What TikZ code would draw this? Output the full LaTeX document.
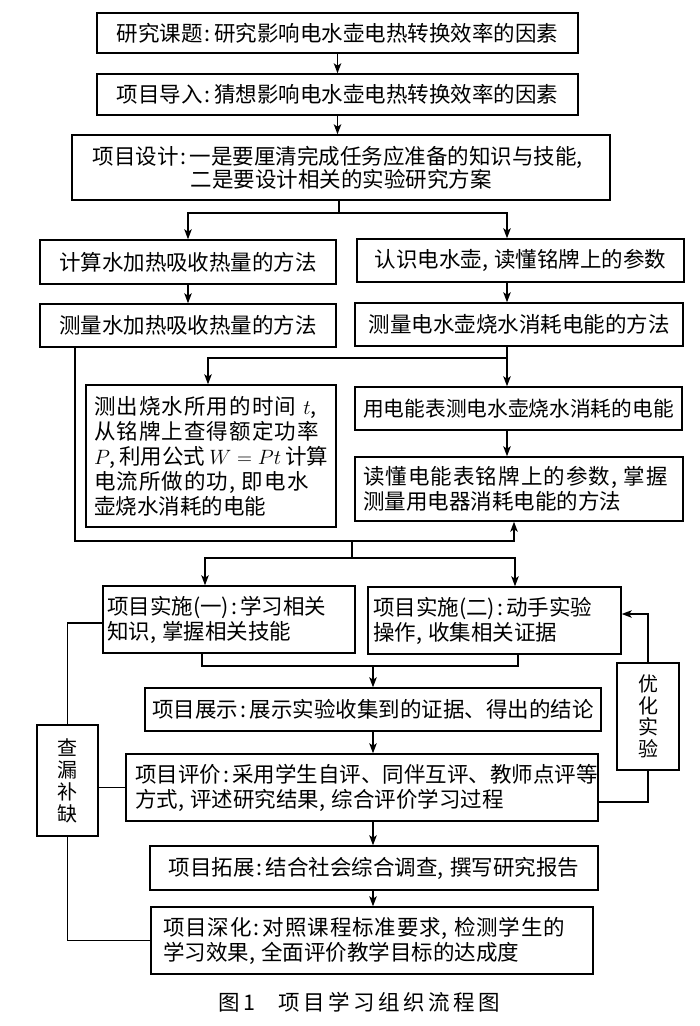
\documentclass[tikz,border=0pt]{standalone}
\usepackage{fontspec}
\setmainfont{Noto Sans CJK SC}
\usetikzlibrary{arrows.meta}
\newcommand{\zcolon}{\kern0.1em:\kern0.15em}
\newcommand{\zcomma}{,\kern0.3em}
\newcommand{\lsp}[2]{{\addfontfeature{LetterSpace=#1}#2}}
\begin{document}
\begin{tikzpicture}[x=1pt,y=-1pt,
  box/.style={draw, line width=1.5pt, inner sep=0pt, font=\fontsize{21.5}{25}\selectfont},
  arr/.style={-{Stealth[length=10pt,width=7.5pt,inset=2.5pt]}, line width=1.3pt},
  ln/.style={line width=1.3pt}]
\useasboundingbox (0,0) rectangle (700,1026);

% column coordinates
\coordinate (cTop) at (337.5,0);
\coordinate (cL) at (188,0);
\coordinate (cR) at (507,0);
\coordinate (cL3) at (208,0);
\coordinate (c75) at (75,0);
\coordinate (cI1) at (205,0);
\coordinate (cI2) at (515,0);
\coordinate (cI1b) at (202,0);
\coordinate (cI2b) at (518,0);
\coordinate (cM) at (373,0);

% boxes
\node[box, minimum width=481pt, minimum height=40pt] (b1) at (337.5,33)
  {研究课题\zcolon 研究影响电水壶电热转换效率的因素};
\node[box, minimum width=481pt, minimum height=41pt] (b2) at (337.5,94.5)
  {项目导入\zcolon 猜想影响电水壶电热转换效率的因素};
\node[box, minimum width=538pt, minimum height=65pt, align=center,
  font=\fontsize{21.5}{22}\selectfont] (b3) at (341,167.5)
  {项目设计\zcolon 一是要厘清完成任务应准备的知识与技能\zcomma\\二是要设计相关的实验研究方案};
\node[box, minimum width=296pt, minimum height=44pt] (L1) at (188,262)
  {计算水加热吸收热量的方法};
\node[box, minimum width=327pt, minimum height=43pt] (R1) at (520.5,260.5)
  {认识电水壶\zcomma 读懂铭牌上的参数};
\node[box, minimum width=296pt, minimum height=43pt] (L2) at (188,325.5)
  {测量水加热吸收热量的方法};
\node[box, minimum width=328pt, minimum height=43pt] (R2) at (519,324.5)
  {测量电水壶烧水消耗电能的方法};
\node[box, minimum width=250pt, minimum height=142pt, text width=234pt,
  inner xsep=8pt, align=left] (L3) at (211,456)
  {\lsp{5}{测出烧水所用的时间} $t$\zcomma\\
   \lsp{5}{从铭牌上查得额定功率}\\
   \mbox{$P$,\kern0.15em 利用公式\kern0.2em$W\;{=}\;Pt$\kern0.2em 计算}\\
   \lsp{5}{电流所做的功\zcomma 即电水}\\
   壶烧水消耗的电能};
\node[box, minimum width=327pt, minimum height=43pt,
  font=\fontsize{20.7}{25}\selectfont] (R3) at (518.5,408.5)
  {用电能表测电水壶烧水消耗的电能};
\node[box, minimum width=328pt, minimum height=64pt, text width=312pt,
  inner xsep=8pt, align=left] (R4) at (519,489)
  {\lsp{5}{读懂电能表铭牌上的参数\zcomma 掌握}\\测量用电器消耗电能的方法};
\node[box, minimum width=252pt, minimum height=67pt, text width=244pt,
  inner xsep=4pt, align=left] (I1) at (229,619.5)
  {项目实施(一)\zcolon 学习相关\\知识\zcomma 掌握相关技能};
\node[box, minimum width=253pt, minimum height=67pt, text width=243pt,
  inner xsep=5pt, align=left] (I2) at (494.5,620.5)
  {项目实施(二)\zcolon 动手实验\\操作\zcomma 收集相关证据};
\node[box, minimum width=456pt, minimum height=43pt] (S) at (373,709.5)
  {项目展示\zcolon 展示实验收集到的证据、得出的结论};
\node[box, minimum width=472pt, minimum height=67pt, text width=454pt,
  inner xsep=9pt, align=left] (E) at (362,787.5)
  {项目评价\zcolon 采用学生自评、同伴互评、教师点评等\\方式\zcomma 评述研究结果\zcomma 综合评价学习过程};
\node[box, minimum width=62pt, minimum height=107pt, align=center,
  font=\fontsize{20}{21.5}\selectfont] (Y) at (648,716.5)
  {优\\化\\实\\验};
\node[box, minimum width=61pt, minimum height=111pt, align=center,
  font=\fontsize{20}{22}\selectfont] (C) at (67.5,780.5)
  {查\\漏\\补\\缺};
\node[box, minimum width=448pt, minimum height=44pt] (T) at (374,868)
  {项目拓展\zcolon 结合社会综合调查\zcomma 撰写研究报告};
\node[box, minimum width=442pt, minimum height=67pt, text width=418pt,
  inner xsep=12pt, align=left] (D) at (372,940.5)
  {\lsp{4}{项目深化\zcolon 对照课程标准要求\zcomma 检测学生的}\\学习效果\zcomma 全面评价教学目标的达成度};
\node[font=\fontsize{21.5}{21.5}\selectfont\addfontfeature{LetterSpace=16}] (cap) at (359,1002)
  {图1\hspace{1.1em}项目学习组织流程图};

% junction coordinates
\coordinate (j1) at (339,213);
\coordinate (j2) at (507,358);
\coordinate (j3) at (514,541);
\coordinate (j3b) at (352,541);
\coordinate (j4) at (352,558);
\coordinate (j5) at (373,666);
\coordinate (k1) at (648,802);
\coordinate (k2) at (0,614);
\coordinate (k3) at (0,623);

% connectors
\draw[arr] (b1.south -| cTop) -- (b2.north -| cTop);
\draw[arr] (b2.south -| cTop) -- (b3.north -| cTop);
\draw[ln] (b3.south -| j1) -- (j1);
\draw[arr] (j1) -| (L1.north -| cL);
\draw[arr] (j1) -| (R1.north -| cR);
\draw[arr] (L1.south -| cL) -- (L2.north -| cL);
\draw[arr] (R1.south -| cR) -- (R2.north -| cR);
\draw[ln] (R2.south -| cR) -- (j2);
\draw[arr] (j2) -| (L3.north -| cL3);
\draw[arr] (j2) -- (R3.north -| cR);
\draw[arr] (R3.south -| cR) -- (R4.north -| cR);
\draw[arr] (L2.south -| c75) |- (j3) -- (R4.south -| j3);
\draw[ln] (j3b) -- (j4);
\draw[arr] (j4) -| (I1.north -| cI1);
\draw[arr] (j4) -| (I2.north -| cI2);
\draw[ln] (I1.south -| cI1b) |- (j5);
\draw[ln] (I2.south -| cI2b) |- (j5);
\draw[arr] (j5) -- (S.north -| cM);
\draw[arr] (S.south -| cM) -- (E.north -| cM);
\draw[arr] (E.south -| cM) -- (T.north -| cM);
\draw[arr] (T.south -| cM) -- (D.north -| cM);
\draw[ln] (k1 -| E.east) -- (k1) -- (Y.south);
\draw[arr] (Y.north) |- (I2.east |- k2);
\draw[ln] (C.north) |- (I1.west |- k3);
\draw[ln] (E.west) -- (C.east |- E.west);
\draw[ln] (C.south) |- (D.west);
\end{tikzpicture}
\end{document}
